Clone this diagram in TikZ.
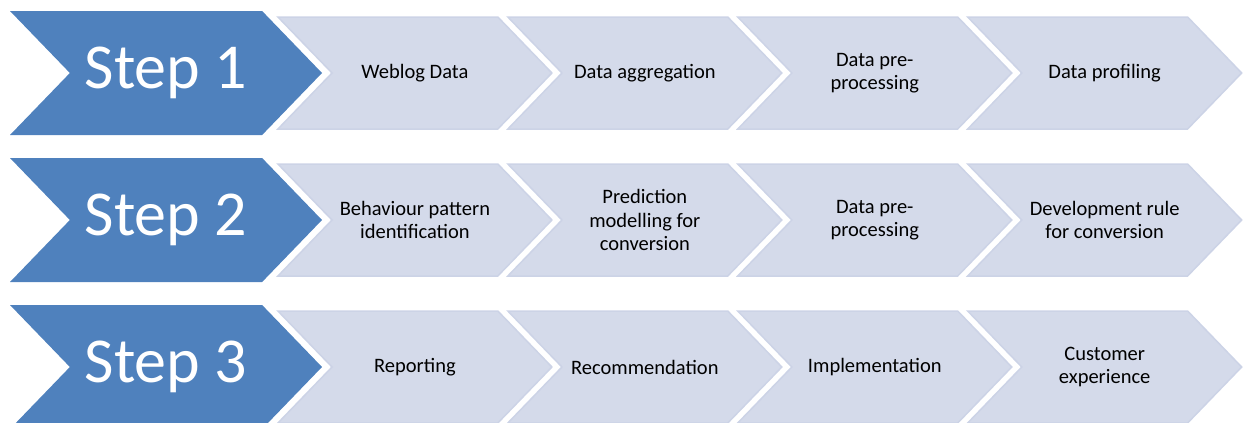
\documentclass[tikz,border=0pt]{standalone}
\usepackage{fontspec}
\setmainfont{Carlito}
\usetikzlibrary{shapes.symbols,positioning}
\definecolor{stepblue}{RGB}{79,129,189}
\definecolor{taskfill}{RGB}{212,218,234}
\definecolor{taskrim}{RGB}{204,211,230}
\tikzset{
	%Define style for the big step chevrons
	stepbox/.style={
		signal, signal to=east, signal from=west,
		signal pointer angle=92,
		fill=stepblue, draw=none,
		outer sep=0pt, inner sep=0pt,
		minimum width=312pt, minimum height=124pt,
		text=white, font=\fontsize{64}{70}\selectfont},
	% Define style for the task chevrons
	taskbox/.style={
		signal, signal to=east, signal from=west,
		signal pointer angle=92,
		fill=taskfill, draw=taskrim, line width=1.5pt,
		outer sep=0pt, inner sep=0pt,
		minimum width=274pt, minimum height=112pt,
		align=center, font=\fontsize{20.5}{23.5}\selectfont}
}
\begin{document}
\begin{tikzpicture}[x=1pt, y=-1pt, node distance=10pt]
		\useasboundingbox (0,0) rectangle (1243,423);
		% first row
		\node[stepbox] (step1) at (166,73) {Step 1};
		\node[taskbox, right=of step1] (weblog) {Weblog Data};
		\node[taskbox, right=of weblog] (aggr) {Data aggregation};
		\node[taskbox, right=of aggr] (prep1) {Data pre-\\processing};
		\node[taskbox, right=of prep1] (profil) {Data profiling};
		% second row
		\node[stepbox, below=23pt of step1] (step2) {Step 2};
		\node[taskbox, right=of step2] (pattern) {Behaviour pattern\\identification};
		\node[taskbox, right=of pattern] (model) {Prediction\\modelling for\\conversion};
		\node[taskbox, right=of model] (prep2) {Data pre-\\processing};
		\node[taskbox, right=of prep2] (rule) {Development rule\\for conversion};
		% third row
		\node[stepbox, below=23pt of step2] (step3) {Step 3};
		\node[taskbox, right=of step3] (report) {Reporting};
		\node[taskbox, right=of report] (recom) {Recommendation};
		\node[taskbox, right=of recom] (impl) {Implementation};
		\node[taskbox, right=of impl] (custexp) {Customer\\experience};
\end{tikzpicture}
\end{document}
